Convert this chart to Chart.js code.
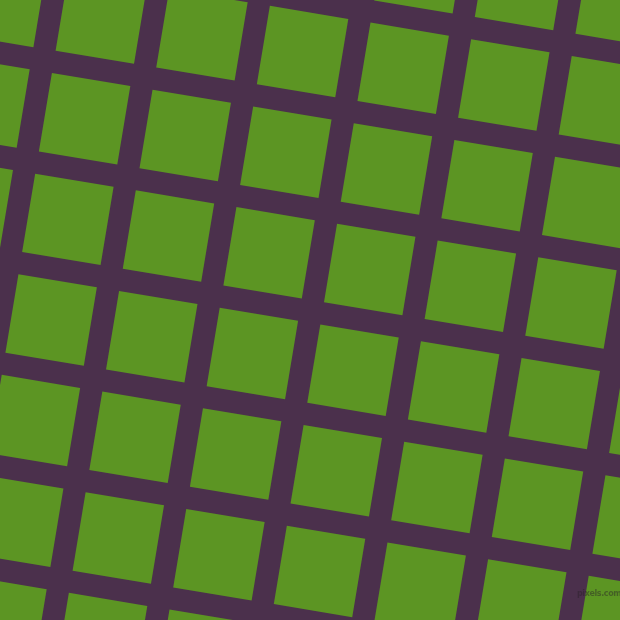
<!DOCTYPE html>
<html>
<head>
<meta charset="utf-8">
<script src="https://cdn.jsdelivr.net/npm/chart.js@4/dist/chart.umd.min.js"></script>
<style>
  html,body{margin:0;padding:0;background:#4b304c;overflow:hidden;}
  #wrap{position:relative;width:620px;height:620px;overflow:hidden;}
  #c{position:absolute;left:-140px;top:-140px;}
  #mark{position:absolute;left:577px;top:589px;font:bold 8px "DejaVu Sans",sans-serif;color:rgba(40,30,40,0.45);letter-spacing:-0.4px;}
</style>
</head>
<body>
<div id="wrap">
<canvas id="c" width="900" height="900"></canvas>
<div id="mark">pixels.com</div>
</div>
<script>
// grid of tiles (column / row indices of the tilted tile grid)
const colIndex = [-2, -1, 0, 1, 2, 3, 4, 5, 6, 7];
const rowIndex = [-3, -2, -1, 0, 1, 2, 3, 4, 5, 6];
// grid geometry
const originX = 84.6, originY = 118.75; // centre of tile (0,0)
const pitch = 102.0;
const angleDeg = 9.44;
const tileSide = 79.5;

const rad = angleDeg * Math.PI / 180;
const c = Math.cos(rad), s = Math.sin(rad);
const points = [];
for (const j of rowIndex) {
  for (const i of colIndex) {
    points.push({
      x: originX + pitch * (i * c - j * s),
      y: originY + pitch * (i * s + j * c)
    });
  }
}
const r = tileSide / Math.SQRT2; // Chart.js reserves this much padding round the chart area
const off = 140;   // canvas is larger than the window and shifted by this much
const size = 900;  // canvas size

new Chart(document.getElementById('c'), {
  type: 'scatter',
  data: {
    datasets: [{
      data: points,
      pointStyle: 'rect',
      rotation: angleDeg,
      pointRadius: r,
      pointHoverRadius: r,
      backgroundColor: '#5c9523',
      borderWidth: 0,
      hoverBorderWidth: 0,
      clip: false
    }]
  },
  options: {
    responsive: false,
    animation: false,
    events: [],
    layout: { padding: 0 },
    plugins: { legend: { display: false }, tooltip: { enabled: false } },
    scales: {
      x: { type: 'linear', min: r - off, max: size - r - off, display: false },
      y: { type: 'linear', min: r - off, max: size - r - off, reverse: true, display: false }
    }
  }
});
</script>
</body>
</html>
